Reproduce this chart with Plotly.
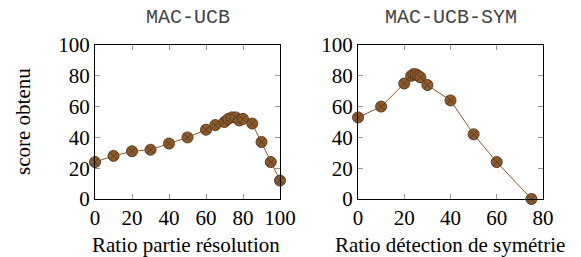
import plotly.graph_objects as go

W, H = 581, 257

# Data
x_ucb = [0, 10, 20, 30, 40, 50, 60, 65, 70, 72, 74, 76, 78, 80, 85, 90, 95, 100]
y_ucb = [24, 28, 31, 32, 36, 40, 45, 48, 50, 52, 53, 53, 51, 52, 49, 37, 24, 12]

x_sym = [0, 10, 20, 23, 24, 25, 26, 27, 30, 40, 50, 60, 75]
y_sym = [53, 60, 75, 80, 81, 81, 80, 79, 74, 64, 42, 24, 0]

title_left = "MAC-UCB"
title_right = "MAC-UCB-SYM"
xlabel_left = "Ratio partie résolution"
xlabel_right = "Ratio détection de symétrie"
ylabel = "score obtenu"

xticks_left = [0, 20, 40, 60, 80, 100]
xticks_right = [0, 20, 40, 60, 80]
yticks = [0, 20, 40, 60, 80, 100]

LINE = "#8b5a2b"
FILL = "#8c5a2d"
EDGE = "#5e3c1c"
SERIF = "Liberation Serif, DejaVu Serif, serif"
MONO = "Liberation Mono, DejaVu Sans Mono, monospace"

# Layout in pixels
Lx0, Lx1 = 95, 280
Rx0, Rx1 = 358, 543
Ytop, Ybot = 45, 199

def px(v):
    return v / W

def py(v):
    return 1 - v / H

fig = go.Figure()

marker = dict(symbol="circle-x", size=11, color=FILL, line=dict(color=EDGE, width=1))

fig.add_trace(go.Scatter(x=x_ucb, y=y_ucb, mode="lines+markers",
                         line=dict(color=LINE, width=1), marker=marker,
                         cliponaxis=False, xaxis="x", yaxis="y", showlegend=False))
fig.add_trace(go.Scatter(x=x_sym, y=y_sym, mode="lines+markers",
                         line=dict(color=LINE, width=1), marker=marker,
                         cliponaxis=False, xaxis="x2", yaxis="y2", showlegend=False))

axis_common = dict(showline=True, linecolor="black", linewidth=1, mirror="ticks",
                   ticks="inside", ticklen=5, tickcolor="#999999", tickwidth=1,
                   showgrid=False, zeroline=False, automargin=False,
                   tickfont=dict(family=SERIF, size=21, color="black"))

fig.update_layout(
    width=W, height=H,
    margin=dict(l=0, r=0, t=0, b=0),
    paper_bgcolor="white", plot_bgcolor="white",
    xaxis=dict(domain=[px(Lx0), px(Lx1)], range=[0, 100], tickvals=xticks_left,
               anchor="y", **axis_common),
    yaxis=dict(domain=[py(Ybot), py(Ytop)], range=[0, 100], tickvals=yticks,
               anchor="x", **axis_common),
    xaxis2=dict(domain=[px(Rx0), px(Rx1)], range=[0, 80], tickvals=xticks_right,
                anchor="y2", **axis_common),
    yaxis2=dict(domain=[py(Ybot), py(Ytop)], range=[0, 100], tickvals=yticks,
                anchor="x2", **axis_common),
)

ann = []
ann.append(dict(text=title_left, x=px((Lx0 + Lx1) / 2), y=py(18), xref="paper", yref="paper",
                showarrow=False, font=dict(family=MONO, size=20, color="#444444"),
                xanchor="center", yanchor="middle"))
ann.append(dict(text=title_right, x=px((Rx0 + Rx1) / 2), y=py(18), xref="paper", yref="paper",
                showarrow=False, font=dict(family=MONO, size=20, color="#444444"),
                xanchor="center", yanchor="middle"))
ann.append(dict(text=xlabel_left, x=px(186), y=py(245), xref="paper", yref="paper",
                showarrow=False, font=dict(family=SERIF, size=21, color="black"),
                xanchor="center", yanchor="middle"))
ann.append(dict(text=xlabel_right, x=px(450), y=py(245), xref="paper", yref="paper",
                showarrow=False, font=dict(family=SERIF, size=21, color="black"),
                xanchor="center", yanchor="middle"))
ann.append(dict(text=ylabel, x=px(23), y=py(122), xref="paper", yref="paper",
                showarrow=False, textangle=-90, font=dict(family=SERIF, size=21, color="black"),
                xanchor="center", yanchor="middle"))
fig.update_layout(annotations=ann)

fig.write_html("out.html", config={"displayModeBar": False},
               post_script="document.body.style.margin='0';document.body.style.overflow='hidden';")
